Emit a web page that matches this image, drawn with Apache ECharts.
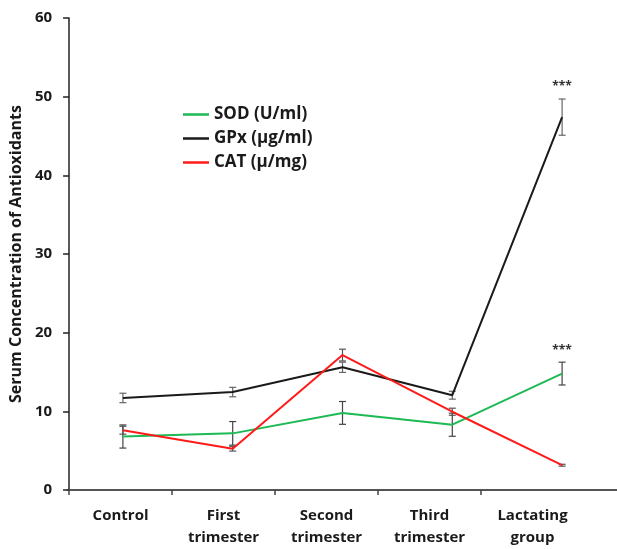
<!DOCTYPE html>
<html><head><meta charset="utf-8">
<script src="https://cdn.jsdelivr.net/npm/echarts@6/dist/echarts.min.js"></script>
<style>html,body{margin:0;padding:0;background:#fff}#c{width:617px;height:549px}</style>
</head><body><div id="c"></div>
<script>
const categories = ['Control', 'First\ntrimester', 'Second\ntrimester', 'Third\ntrimester', 'Lactating\ngroup'];
const yMin = 0, yMax = 60, yStep = 10;
const seriesNames = ['SOD (U/ml)', 'GPx (\u00b5g/ml)', 'CAT (\u00b5/mg)'];
const sod = [6.8, 7.2, 9.8, 8.3, 14.8];
const sodErr = [1.47, 1.5, 1.45, 1.47, 1.45];
const gpx = [11.7, 12.45, 15.6, 12.05, 47.4];
const gpxErr = [0.6, 0.6, 0.65, 0.5, 2.3];
const cat = [7.6, 5.25, 17.15, 9.95, 3.15];
const catErr = [0.5, 0.3, 0.75, 0.45, 0.12];
const sodSig = ['', '', '', '', '***'];
const gpxSig = ['', '', '', '', '***'];
const catSig = ['', '', '', '', ''];
const tickPositions = [0, 1, 2, 3, 4];

const FONT = 'Open Sans';
const TXT = '#1a1a1a';

function errSeries(vals, errs, sig, color) {
  return {
    type: 'custom', xAxisIndex: 2, yAxisIndex: 1, z: 1, silent: true,
    data: vals.map((v, i) => [i, v, errs[i]]),
    renderItem(params, api) {
      const i = api.value(0), v = api.value(1), e = api.value(2);
      const top = api.coord([i, v + e]), bot = api.coord([i, v - e]);
      const w = 3.5;
      const st = { stroke: color, lineWidth: 1.2 };
      const children = [
        { type: 'line', shape: { x1: top[0], y1: top[1], x2: bot[0], y2: bot[1] }, style: st },
        { type: 'line', shape: { x1: top[0] - w, y1: top[1], x2: top[0] + w, y2: top[1] }, style: st },
        { type: 'line', shape: { x1: bot[0] - w, y1: bot[1], x2: bot[0] + w, y2: bot[1] }, style: st }
      ];
      const s = sig[params.dataIndex];
      if (s) children.push({ type: 'text', style: { text: s, x: top[0], y: top[1] - 12, align: 'center', verticalAlign: 'middle', fill: '#333', font: 'bold 12px "' + FONT + '"' } });
      return { type: 'group', children };
    }
  };
}
function lineSeries(name, vals, color) {
  return { name, type: 'line', xAxisIndex: 2, yAxisIndex: 1, z: 3, data: vals, symbol: 'none', color,
    lineStyle: { color, width: 2 } };
}

const chart = echarts.init(document.getElementById('c'));
chart.setOption({
  animation: false,
  backgroundColor: '#fff',
  grid: [
    { left: 68, right: 33, top: 18, bottom: 59 },
    { left: 68, right: 0, top: 18, bottom: 59 }
  ],
  legend: {
    data: seriesNames, orient: 'vertical', left: 178, top: 101,
    icon: 'rect', itemWidth: 26, itemHeight: 2.5, itemGap: 7,
    textStyle: { fontFamily: FONT, fontWeight: 'bold', fontSize: 17, color: TXT }
  },
  xAxis: [
    { type: 'category', gridIndex: 0, position: 'bottom', data: categories, boundaryGap: true,
      axisLine: { show: false }, axisTick: { show: false },
      axisLabel: { margin: 15, fontFamily: FONT, fontWeight: 'bold', fontSize: 15, color: TXT, lineHeight: 22, interval: 0 } },
    { type: 'value', gridIndex: 0, position: 'bottom', min: 0, max: 5,
      axisLine: { show: false }, splitLine: { show: false }, axisLabel: { show: false },
      axisTick: { show: true, customValues: tickPositions, length: 5, lineStyle: { color: '#444', width: 1.5 } } },
    { type: 'category', gridIndex: 1, position: 'bottom', data: categories, boundaryGap: true,
      axisLine: { show: true, lineStyle: { color: '#555', width: 2 } }, axisTick: { show: false }, axisLabel: { show: false } }
  ],
  yAxis: [
    { type: 'value', gridIndex: 0, min: yMin, max: yMax, interval: yStep,
      name: 'Serum Concentration of Antioxidants', nameLocation: 'middle', nameGap: 41,
      nameTextStyle: { fontFamily: FONT, fontWeight: 'bold', fontSize: 16, color: TXT },
      axisLine: { show: true, lineStyle: { color: '#222', width: 1.5 } },
      axisTick: { show: true, length: 6, lineStyle: { color: '#222', width: 1.5 } },
      splitLine: { show: false },
      axisLabel: { margin: 17, fontFamily: FONT, fontWeight: 'bold', fontSize: 15, color: TXT } },
    { type: 'value', gridIndex: 1, min: yMin, max: yMax, interval: yStep, show: false, splitLine: { show: false } }
  ],
  series: [
    errSeries(sod, sodErr, sodSig, '#444'),
    errSeries(gpx, gpxErr, gpxSig, '#666'),
    errSeries(cat, catErr, catSig, '#555'),
    lineSeries(seriesNames[0], sod, '#1db954'),
    lineSeries(seriesNames[1], gpx, '#1a1a1a'),
    lineSeries(seriesNames[2], cat, '#ff1a1a')
  ]
});
</script></body></html>
